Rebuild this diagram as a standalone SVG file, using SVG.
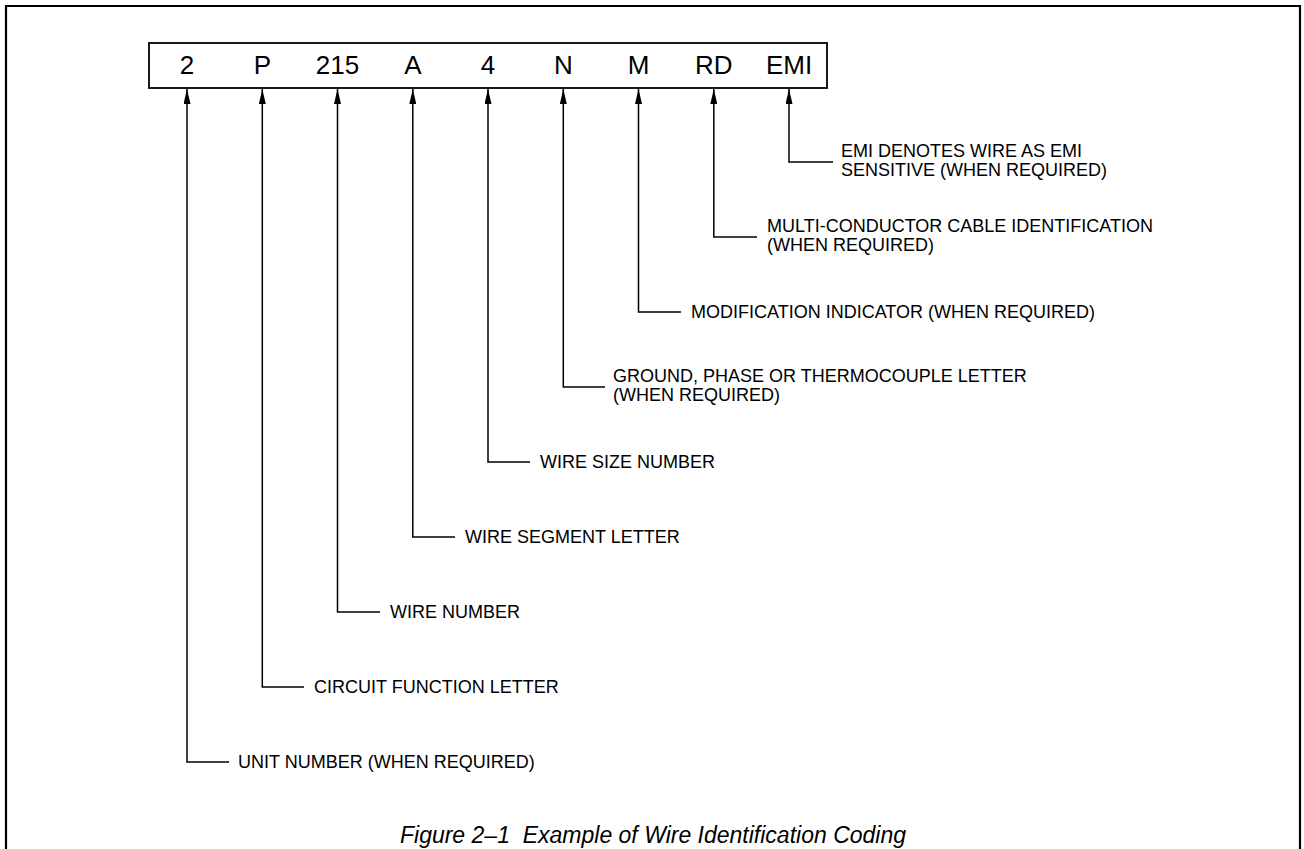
<svg xmlns="http://www.w3.org/2000/svg" width="1304" height="849" viewBox="0 0 1304 849">
<style>
.frame{fill:none;stroke:#000;stroke-width:2.2}
.box{fill:#fff;stroke:#000;stroke-width:1.8}
.code{font-family:"Liberation Sans",Arial,sans-serif;font-size:26px;fill:#000;text-anchor:middle}
.lbl{font-family:"Liberation Sans",Arial,sans-serif;font-size:18px;fill:#000}
.cap{font-family:"Liberation Sans",Arial,sans-serif;font-size:23px;font-style:italic;fill:#000;text-anchor:middle}
.ln{fill:none;stroke:#000;stroke-width:1.5}
</style>
<defs>
<marker id="ah" markerWidth="7" markerHeight="15" refX="3.5" refY="0" orient="0" markerUnits="userSpaceOnUse" viewBox="0 0 7 15">
<path d="M0,15 L3.5,0 L7,15 Z" fill="#000"/>
</marker>
</defs>
<rect width="1304" height="849" fill="#fff"/>
<path class="frame" d="M6,849 V6 H1300 V849"/>
<g id="code-box">
<rect class="box" x="149" y="43" width="678" height="45"/>
<text class="code" x="187" y="74">2</text>
<text class="code" x="262.3" y="74">P</text>
<text class="code" x="337.5" y="74">215</text>
<text class="code" x="412.8" y="74">A</text>
<text class="code" x="488" y="74">4</text>
<text class="code" x="563.3" y="74">N</text>
<text class="code" x="638.5" y="74">M</text>
<text class="code" x="713.8" y="74">RD</text>
<text class="code" x="789" y="74">EMI</text>
</g>
<g id="connectors">
<path class="ln" marker-start="url(#ah)" d="M187,89 V762 H229"/>
<path class="ln" marker-start="url(#ah)" d="M262.3,89 V687 H304"/>
<path class="ln" marker-start="url(#ah)" d="M337.5,89 V612 H380"/>
<path class="ln" marker-start="url(#ah)" d="M412.8,89 V537 H455"/>
<path class="ln" marker-start="url(#ah)" d="M488,89 V462 H530"/>
<path class="ln" marker-start="url(#ah)" d="M563.3,89 V387 H605"/>
<path class="ln" marker-start="url(#ah)" d="M638.5,89 V312 H681"/>
<path class="ln" marker-start="url(#ah)" d="M713.8,89 V237 H757"/>
<path class="ln" marker-start="url(#ah)" d="M789,89 V162 H833"/>
</g>
<g id="label-emi"><text class="lbl" x="841" y="157">EMI DENOTES WIRE AS EMI</text><text class="lbl" x="841" y="176">SENSITIVE (WHEN REQUIRED)</text></g>
<g id="label-rd"><text class="lbl" x="767" y="232">MULTI-CONDUCTOR CABLE IDENTIFICATION</text><text class="lbl" x="767" y="251">(WHEN REQUIRED)</text></g>
<g id="label-m"><text class="lbl" x="691" y="318">MODIFICATION INDICATOR (WHEN REQUIRED)</text></g>
<g id="label-n"><text class="lbl" x="613" y="382">GROUND, PHASE OR THERMOCOUPLE LETTER</text><text class="lbl" x="613" y="401">(WHEN REQUIRED)</text></g>
<g id="label-4"><text class="lbl" x="540" y="468">WIRE SIZE NUMBER</text></g>
<g id="label-a"><text class="lbl" x="465" y="543">WIRE SEGMENT LETTER</text></g>
<g id="label-215"><text class="lbl" x="390" y="618">WIRE NUMBER</text></g>
<g id="label-p"><text class="lbl" x="314" y="693">CIRCUIT FUNCTION LETTER</text></g>
<g id="label-2"><text class="lbl" x="238" y="768">UNIT NUMBER (WHEN REQUIRED)</text></g>
<text class="cap" x="653" y="843" xml:space="preserve">Figure 2–1  Example of Wire Identification Coding</text>
</svg>
